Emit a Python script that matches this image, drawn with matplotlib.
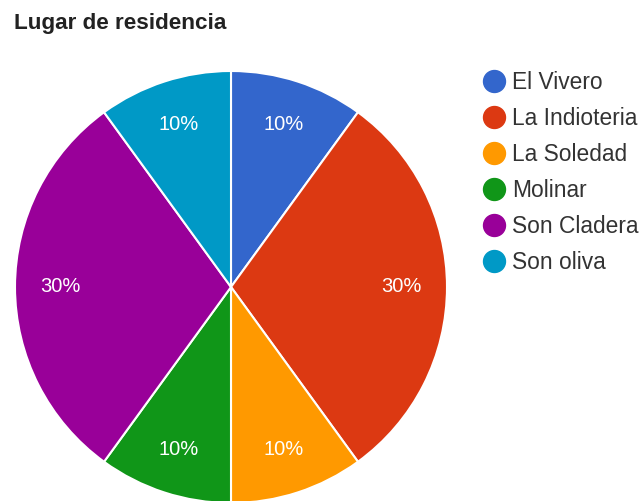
import matplotlib
matplotlib.use("Agg")
import matplotlib.pyplot as plt
from matplotlib.lines import Line2D

plt.rcParams['font.family'] = ['Liberation Sans', 'DejaVu Sans']

title = "Lugar de residencia"
categories = ["El Vivero", "La Indioteria", "La Soledad", "Molinar", "Son Cladera", "Son oliva"]
values = [10, 30, 10, 10, 30, 10]
colors = ["#3366cc", "#dc3912", "#ff9900", "#109618", "#990099", "#0099c6"]

W, H = 643, 501
fig = plt.figure(figsize=(W / 100, H / 100), dpi=100)
fig.patch.set_facecolor("white")

cx, cy, r = 231, 287, 216
ax = fig.add_axes([(cx - r) / W, (H - cy - r) / H, 2 * r / W, 2 * r / H])
wedges, texts, autotexts = ax.pie(
    values, colors=colors, startangle=90, counterclock=False,
    autopct='%1.0f%%', pctdistance=0.79, radius=1,
    wedgeprops=dict(edgecolor="white", linewidth=1.5),
    textprops=dict(color="white", fontsize=14.5))
ax.set_xlim(-1, 1)
ax.set_ylim(-1, 1)
ax.set_aspect("equal")
ax.axis("off")

fig.text(13.5 / W, 1 - 29.3 / H, title, fontsize=16.2, fontweight="bold", color="#222222",
         ha="left", va="baseline")

handles = [Line2D([], [], marker="o", linestyle="none", markersize=15.8,
                  markerfacecolor=c, markeredgecolor=c) for c in colors]
leg = fig.legend(handles, categories, loc="upper left",
                 bbox_to_anchor=(482.6 / W, 1 - 71 / H), frameon=False,
                 fontsize=16.4, labelspacing=0.57, handletextpad=0.29,
                 handlelength=1.0, borderaxespad=0, borderpad=0)
for t in leg.get_texts():
    t.set_color("#333333")

fig.savefig("out.png", dpi=100, facecolor="white")
